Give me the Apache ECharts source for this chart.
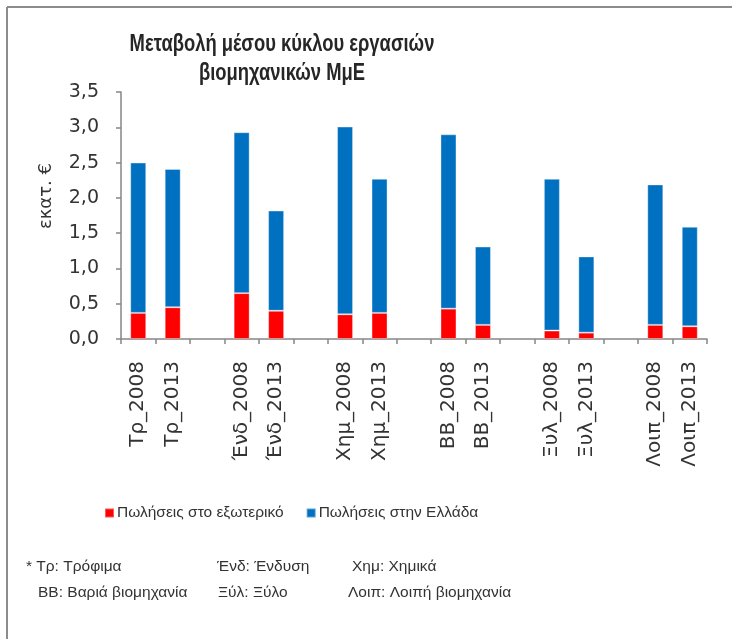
<!DOCTYPE html>
<html>
<head>
<meta charset="utf-8">
<script src="https://cdn.jsdelivr.net/npm/echarts@6/dist/echarts.min.js"></script>
<style>
  html, body { margin: 0; padding: 0; background: #fff; }
  #chart { width: 732px; height: 639px; }
</style>
</head>
<body>
<div id="chart"></div>
<script>
// Sector / year categories; empty strings leave a gap between sectors
const categories = [
  'Τρ_2008', 'Τρ_2013', '',
  'Ένδ_2008', 'Ένδ_2013', '',
  'Χημ_2008', 'Χημ_2013', '',
  'ΒΒ_2008', 'ΒΒ_2013', '',
  'Ξυλ_2008', 'Ξυλ_2013', '',
  'Λοιπ_2008', 'Λοιπ_2013'
];

// Exports (million €)
const exportSales = [
  0.37, 0.45, null,
  0.65, 0.40, null,
  0.35, 0.37, null,
  0.43, 0.20, null,
  0.12, 0.09, null,
  0.20, 0.18
];

// Domestic sales (million €)
const domesticSales = [
  2.13, 1.96, null,
  2.28, 1.42, null,
  2.66, 1.90, null,
  2.47, 1.11, null,
  2.15, 1.08, null,
  1.99, 1.41
];

const yTicks = { min: 0, max: 3.5, interval: 0.5 };

const seriesNames = ['Πωλήσεις στο εξωτερικό', 'Πωλήσεις στην Ελλάδα'];

const titleLines = ['Μεταβολή μέσου κύκλου εργασιών', 'βιομηχανικών ΜμΕ'];

const footnotes = [
  { text: '* Τρ: Τρόφιμα', x: 26, y: 567 },
  { text: 'Ένδ: Ένδυση', x: 217, y: 567 },
  { text: 'Χημ: Χημικά', x: 352, y: 567 },
  { text: 'ΒΒ: Βαριά βιομηχανία', x: 38, y: 593 },
  { text: 'Ξύλ: Ξύλο', x: 218, y: 593 },
  { text: 'Λοιπ: Λοιπή βιομηχανία', x: 348, y: 593 }
];

const axisFont = '"DejaVu Sans", Verdana, sans-serif';
const noteFont = '"Liberation Sans", Arial, sans-serif';
const textColor = '#333333';
const axisColor = '#868686';

const chart = echarts.init(document.getElementById('chart'), null, { renderer: 'canvas' });

const graphics = [
  // frame lines (left and top)
  { type: 'line', shape: { x1: 7, y1: 7, x2: 732, y2: 7 }, style: { stroke: '#8c8c8c', lineWidth: 2 } },
  { type: 'line', shape: { x1: 7, y1: 7, x2: 7, y2: 639 }, style: { stroke: '#8c8c8c', lineWidth: 2 } },
  // y-axis unit
  {
    type: 'text', x: 46, y: 196, rotation: Math.PI / 2,
    style: { text: 'εκατ. €', font: '18px ' + axisFont, fill: textColor, align: 'center', verticalAlign: 'middle' }
  }
]
  // two-line bold title, condensed horizontally
  .concat(titleLines.map((t, i) => ({
    type: 'text', x: 282, y: 45 + i * 29, scaleX: 0.8,
    style: { text: t, font: 'bold 23px ' + noteFont, fill: '#262626', align: 'center', verticalAlign: 'middle' }
  })))
  .concat(footnotes.map(f => ({
    type: 'text', x: f.x, y: f.y,
    style: { text: f.text, font: '15.5px ' + noteFont, fill: textColor, align: 'left', verticalAlign: 'middle' }
  })));

chart.setOption({
  animation: false,
  backgroundColor: '#ffffff',
  legend: {
    data: seriesNames,
    left: 104,
    top: 505,
    padding: 0,
    icon: 'rect',
    itemWidth: 9,
    itemHeight: 9,
    itemGap: 22,
    textStyle: { fontFamily: noteFont, fontSize: 15.5, color: textColor, padding: [0, 0, 0, -2] }
  },
  grid: { left: 121, right: 25, top: 92, bottom: 300, containLabel: false },
  xAxis: {
    type: 'category',
    data: categories,
    boundaryGap: true,
    axisLine: { lineStyle: { color: axisColor, width: 1.5 } },
    axisTick: { show: true, interval: 0, length: 5, lineStyle: { color: axisColor, width: 1.5 } },
    axisLabel: {
      interval: 0,
      rotate: 90,
      margin: 22,
      fontFamily: axisFont,
      fontSize: 20,
      color: textColor
    }
  },
  yAxis: {
    type: 'value',
    min: yTicks.min,
    max: yTicks.max,
    interval: yTicks.interval,
    splitLine: { show: false },
    axisLine: { show: true, lineStyle: { color: axisColor, width: 1.5 } },
    axisTick: { show: true, length: 5, lineStyle: { color: axisColor, width: 1.5 } },
    axisLabel: {
      margin: 22,
      fontFamily: axisFont,
      fontSize: 19,
      color: textColor,
      formatter: v => v.toFixed(1).replace('.', ',')
    }
  },
  series: [
    {
      name: seriesNames[0],
      type: 'bar',
      stack: 'total',
      data: exportSales,
      barWidth: 16,
      itemStyle: { color: '#ff0000', borderColor: 'rgba(255,255,255,0.35)', borderWidth: 1 }
    },
    {
      name: seriesNames[1],
      type: 'bar',
      stack: 'total',
      data: domesticSales,
      barWidth: 16,
      itemStyle: { color: '#0070c0', borderColor: 'rgba(255,255,255,0.35)', borderWidth: 1 }
    }
  ],
  graphic: graphics
});
</script>
</body>
</html>
